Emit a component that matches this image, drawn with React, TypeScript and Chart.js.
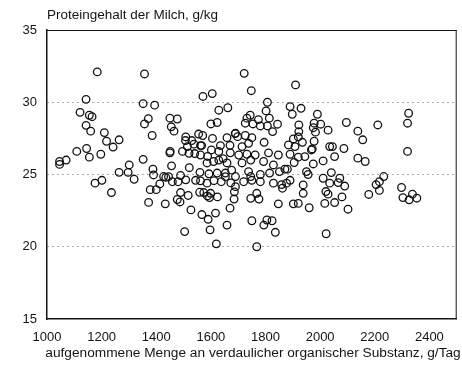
import React, { useEffect, useRef } from "react";
import { Chart, registerables } from "chart.js";

Chart.register(...registerables);

const yAxisTitle = "Proteingehalt der Milch, g/kg";
const xAxisTitle = "aufgenommene Menge an verdaulicher organischer Substanz, g/Tag";
const xTickValues = [1000, 1200, 1400, 1600, 1800, 2000, 2200, 2400];
const yTickValues = [15, 20, 25, 30, 35];

// Daily intake of digestible organic matter (g/day)
const intake = [
  1046, 1046, 1070, 1109, 1121, 1143, 1184, 1155, 1165, 1143, 1160, 1145, 1155, 1197, 1210, 1218, 1242, 1264,
  1176, 1201, 1236, 1264, 1297, 1301, 1319, 1352, 1352, 1357, 1394, 1371, 1357, 1385, 1388, 1390, 1427, 1413,
  1378, 1400, 1372, 1433, 1450, 1455, 1451, 1450, 1477, 1465, 1508, 1507, 1530, 1555, 1570, 1538, 1514, 1566,
  1562, 1606, 1600, 1623, 1629, 1662, 1571, 1605, 1722, 1748, 1807, 1802, 1744, 1732, 1774, 1814, 1726, 1754,
  1781, 1807, 1844, 1826, 1659, 1689, 1698, 1726, 1750, 1795, 1670, 1635, 1714, 1738, 1496, 1520, 1541, 1562,
  1588, 1602, 1629, 1645, 1586, 1610, 1629, 1671, 1702, 1732, 1762, 1811, 1847, 1659, 1714, 1746, 1793, 1829,
  1456, 1521, 1560, 1489, 1623, 1593, 1653, 1676, 1690, 1738, 1746, 1781, 1815, 1851, 1445, 1459, 1480, 1508,
  1544, 1562, 1586, 1611, 1638, 1653, 1673, 1690, 1720, 1750, 1781, 1829, 1859, 1489, 1517, 1477, 1487, 1559,
  1574, 1587, 1595, 1599, 1624, 1685, 1686, 1746, 1768, 1776, 1847, 1670, 1527, 1567, 1590, 1617, 1504, 1597,
  1659, 1620, 1750, 1794, 1805, 1824, 1836, 2022, 1768, 1910, 1890, 1930, 1898, 1990, 1922, 1978, 2002, 1975,
  2096, 2211, 2138, 2156, 2029, 1922, 1983, 1902, 1920, 1935, 1978, 1884, 1908, 1971, 2035, 2045, 2087, 1890,
  1920, 1944, 1968, 1975, 2011, 2053, 2138, 2165, 1905, 1871, 1880, 1950, 1956, 2041, 2011, 2035, 2072, 2066,
  2090, 2233, 2217, 2205, 2217, 2298, 2303, 2338, 2354, 2326, 1877, 1890, 1862, 1938, 1938, 2021, 2029, 2080,
  2017, 2053, 2178, 1902, 1920, 1960, 2102, 2324, 2320, 2320, 1690, 1435,
];

// Milk protein content (g/kg)
const protein = [
  25.9, 25.7, 26.0, 26.6, 29.3, 30.2, 32.1, 29.1, 29.0, 28.4, 28.0, 26.8, 26.2, 26.4, 27.9, 27.3, 26.9, 27.4,
  24.4, 24.6, 23.75, 25.15, 25.15, 25.66, 24.67, 26.05, 29.9, 31.96, 29.8, 28.87, 28.5, 27.7, 25.37, 24.97, 24.86, 24.35,
  23.95, 23.95, 23.07, 22.97, 28.9, 28.3, 26.6, 26.5, 28.84, 28.0, 27.6, 27.35, 27.35, 27.8, 27.7, 27.1, 26.93, 27.0,
  27.0, 27.5, 28.5, 28.6, 29.45, 29.62, 30.4, 30.6, 32.0, 30.8, 30.0, 29.4, 29.1, 28.9, 28.8, 28.9, 28.55, 28.5,
  28.36, 28.36, 28.48, 27.97, 27.55, 27.83, 27.62, 27.7, 27.55, 27.23, 27.02, 27.0, 26.93, 27.16, 26.6, 26.47, 26.45, 26.35,
  26.25, 26.7, 26.6, 26.1, 25.8, 25.9, 26.0, 26.5, 26.35, 26.4, 26.35, 26.5, 26.35, 25.8, 25.8, 26.0, 25.9, 25.66,
  25.6, 25.47, 25.15, 24.93, 25.1, 25.05, 25.1, 25.3, 24.86, 25.2, 24.86, 25.0, 25.1, 25.2, 24.85, 24.5, 24.5, 24.63,
  24.6, 24.56, 24.4, 24.57, 24.5, 24.85, 24.42, 24.16, 24.5, 24.6, 24.5, 24.4, 24.3, 23.75, 23.55, 23.27, 23.1, 23.77,
  23.75, 23.52, 23.4, 23.7, 23.45, 23.3, 23.8, 23.35, 23.7, 23.3, 22.97, 22.67, 22.55, 22.23, 21.9, 22.33, 21.05, 21.17,
  21.5, 20.2, 21.8, 21.5, 21.85, 21.8, 21.0, 20.9, 20.0, 31.2, 29.7, 29.58, 29.17, 29.17, 28.43, 28.55, 28.48, 28.24,
  28.6, 28.43, 28.0, 27.4, 28.07, 27.97, 27.93, 27.46, 27.6, 27.23, 27.3, 27.05, 26.93, 26.77, 26.93, 26.93, 26.8, 26.4,
  26.2, 26.24, 26.7, 25.73, 25.94, 26.24, 26.13, 25.9, 25.83, 25.37, 25.37, 25.2, 25.0, 25.13, 24.74, 24.4, 24.74, 24.44,
  24.2, 24.86, 24.5, 24.3, 23.9, 24.1, 23.4, 23.64, 23.36, 23.25, 24.4, 24.6, 24.05, 24.28, 23.7, 23.82, 23.64, 23.45,
  23.0, 23.06, 23.62, 22.97, 23.0, 22.7, 22.6, 29.24, 28.55, 26.6, 27.85, 24.8,
];

const ink = "#141414";
const fontFamily = "'Liberation Sans', Arial, Helvetica, sans-serif";

export default function App() {
  const canvasRef = useRef<HTMLCanvasElement | null>(null);

  useEffect(() => {
    const canvas = canvasRef.current;
    if (!canvas) return;

    const points = intake.map((x, i) => ({ x, y: protein[i] }));

    const textPlugin = {
      id: "textPlugin",
      afterDraw(chart: any) {
        const { ctx, chartArea } = chart;
        ctx.save();
        ctx.strokeStyle = ink;
        ctx.lineWidth = 1;
        ctx.setLineDash([]);
        ctx.beginPath();
        ctx.moveTo(chartArea.left, chartArea.top + 0.5);
        ctx.lineTo(chartArea.right, chartArea.top + 0.5);
        ctx.moveTo(chartArea.right - 0.5, chartArea.top);
        ctx.lineTo(chartArea.right - 0.5, chartArea.bottom);
        ctx.stroke();
        ctx.fillStyle = ink;
        ctx.font = `13.5px ${fontFamily}`;
        ctx.textBaseline = "alphabetic";
        ctx.textAlign = "left";
        ctx.fillText(yAxisTitle, chartArea.left, 19);
        ctx.font = `13.7px ${fontFamily}`;
        ctx.textAlign = "center";
        ctx.fillText(xAxisTitle, 253, 357);
        ctx.restore();
      },
    };

    const chart = new Chart(canvas, {
      type: "scatter",
      data: {
        datasets: [
          {
            data: points,
            pointStyle: "circle",
            pointRadius: 3.8,
            pointBorderWidth: 1.3,
            pointBorderColor: "#111",
            pointBackgroundColor: "rgba(255,255,255,0)",
            showLine: false,
          },
        ],
      },
      options: {
        responsive: false,
        animation: false,
        events: [],
        layout: { padding: { left: 0, right: 3, top: 30, bottom: 0 } },
        plugins: {
          legend: { display: false },
          tooltip: { enabled: false },
          title: { display: false },
        },
        scales: {
          x: {
            type: "linear",
            min: 1000,
            max: 2500,
            afterBuildTicks: (scale: any) => {
              scale.ticks = xTickValues.map((v) => ({ value: v }));
            },
            afterFit: (scale: any) => {
              scale.height = 46;
            },
            grid: { display: false, drawTicks: false },
            border: { display: true, color: ink, width: 1.5 },
            ticks: {
              padding: 11,
              color: ink,
              font: { family: fontFamily, size: 13 },
              maxRotation: 0,
              autoSkip: false,
              callback: (v: any) => String(v),
            },
          },
          y: {
            type: "linear",
            min: 15,
            max: 35,
            afterBuildTicks: (scale: any) => {
              scale.ticks = yTickValues.map((v) => ({ value: v }));
            },
            afterFit: (scale: any) => {
              scale.width = 47;
            },
            grid: {
              drawTicks: false,
              color: (c: any) =>
                c.tick && (c.tick.value === 15 || c.tick.value === 35) ? "rgba(0,0,0,0)" : "#555",
              lineWidth: 1,
            },
            border: { display: true, color: ink, width: 1.5, dash: [1, 4] },
            ticks: {
              padding: 10,
              color: ink,
              font: { family: fontFamily, size: 13 },
              callback: (v: any) => String(v),
            },
          },
        },
      },
      plugins: [textPlugin],
    });

    return () => {
      chart.destroy();
    };
  }, []);

  return (
    <div style={{ position: "fixed", left: 0, top: 0, width: 462, height: 365, background: "#fff" }}>
      <canvas ref={canvasRef} width={462} height={365} style={{ display: "block" }} />
    </div>
  );
}
